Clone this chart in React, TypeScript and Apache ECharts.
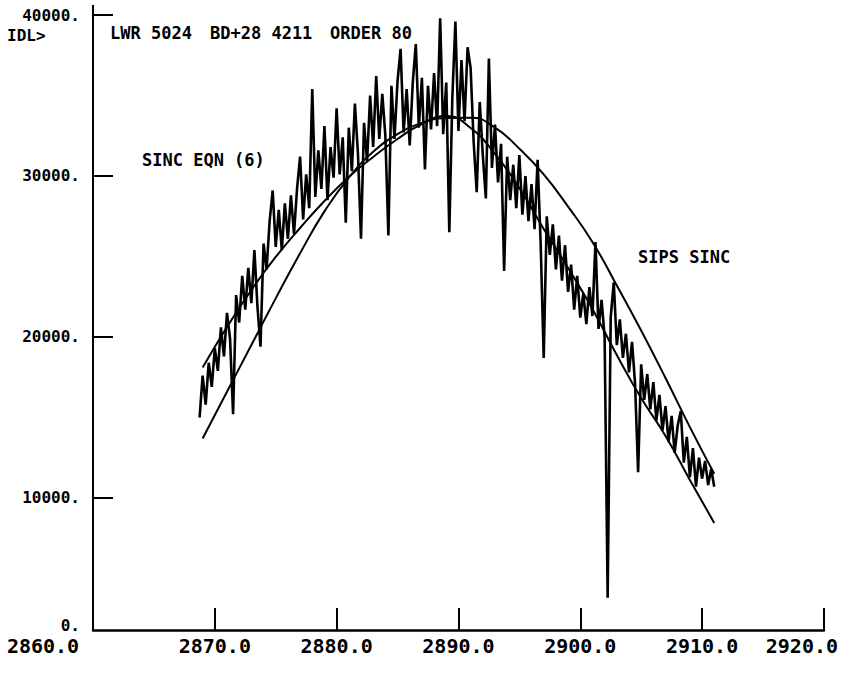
import React, { useEffect, useRef } from "react";
import * as echarts from "echarts";

// Observed spectrum: sampled on a regular wavelength grid
const WAVE_START = 2868.75;
const WAVE_STEP = 0.25;
const spectrum = [
  15000,
  17600, 15800, 18400, 16900,
  19300, 17900, 20600, 18800,
  21500, 19900, 15200, 22600,
  20900, 23800, 21700, 24300,
  22100, 25400, 21900, 19400,
  25800, 24200, 27200, 29100,
  25600, 27900, 25400, 28300,
  26100, 28800, 26400, 29200,
  31200, 27300, 30100, 28000,
  35400, 28700, 31600, 29200,
  33100, 28500, 31800, 29900,
  34200, 30100, 32400, 27100,
  33000, 30300, 34500, 31400,
  26100, 33300, 30900, 35000,
  31800, 36200, 32300, 35100,
  32500, 26300, 35600, 32300,
  35900, 37900, 32700, 35400,
  31900, 35800, 38200, 33000,
  36100, 30400, 35600, 32900,
  36400, 33100, 39800, 32600,
  35800, 26500, 34900, 39600,
  32800, 37200, 33400, 38000,
  36700, 32100, 29000, 34600,
  31300, 28600, 37300, 30500,
  33200, 29600, 32000, 24100,
  31200, 28500, 30700, 28000,
  31300, 27600, 30000, 27200,
  29500, 26700, 31000, 25800,
  18700, 27500, 25100, 27000,
  24200, 26300, 23500, 25700,
  22800, 24500, 21700, 23800,
  21200, 22700, 20800, 23100,
  21300, 25900, 20500, 22300,
  20000, 3800, 21200, 23400,
  19500, 21100, 18700, 20200,
  17800, 19700, 17100, 11600,
  18300, 16100, 17700, 15500,
  17200, 14800, 16400, 14200,
  15700, 13500, 15100, 12800,
  14500, 15400, 12200, 13800,
  11300, 13100, 10700, 12500,
  11200, 12300, 10800, 11800,
  10700,
];

// Fitted curves
const fitWaves = [
  2869, 2871, 2873, 2875, 2877, 2879, 2881, 2883, 2885, 2887, 2889,
  2891, 2893, 2895, 2897, 2899, 2901, 2903, 2905, 2907, 2909, 2911,
];
const sincEqn6 = [
  18100, 20620, 22920, 24970, 26770, 28450, 29940, 31180, 32300, 33230, 33730,
  32980, 31370, 29250, 26710, 24290, 21740, 18880, 16210, 13850, 11120, 8450,
];
const sipsSinc = [
  13700, 16600, 19500, 22400, 25200, 27800, 29900, 31500, 32600, 33300, 33600,
  33620, 33000, 31700, 30100, 28100, 25900, 23200, 20400, 17450, 14400, 11500,
];

const xTickValues = [2860, 2870, 2880, 2890, 2900, 2910, 2920];
const yLabelValues = [2100, 10000, 20000, 30000, 40000];
const yTickValues = [10000, 20000, 30000, 40000];

const FONT = '"DejaVu Sans Mono", monospace';

export default function App() {
  const ref = useRef<HTMLDivElement>(null);
  useEffect(() => {
    if (!ref.current) return;
    const chart = echarts.init(ref.current, undefined, { renderer: "svg" });
    const specData = spectrum.map((v, i) => [WAVE_START + i * WAVE_STEP, v]);
    const eqnData = fitWaves.map((w, i) => [w, sincEqn6[i]]);
    const sipsData = fitWaves.map((w, i) => [w, sipsSinc[i]]);
    const txt = (text: string, x: number, y: number, size = 17) => ({
      type: "text",
      x,
      y,
      silent: true,
      style: {
        text,
        fill: "#000",
        font: `bold ${size}px ${FONT}`,
        align: "left",
        verticalAlign: "middle",
      },
    });
    const xRich = (pad: number) => ({
      padding: [0, pad, 0, 0],
      fontFamily: FONT,
      fontWeight: "bold",
      fontSize: 20,
      color: "#000",
    });
    chart.setOption({
      animation: false,
      backgroundColor: "#fff",
      grid: { left: 93, right: 17, top: 15, bottom: 58, containLabel: false },
      xAxis: {
        type: "value",
        min: 2860,
        max: 2920,
        interval: 10,
        axisLine: { show: true, lineStyle: { color: "#000", width: 2.5 } },
        axisTick: { show: true, inside: true, length: 22, lineStyle: { color: "#000", width: 2 } },
        splitLine: { show: false },
        axisLabel: {
          margin: 6,
          color: "#000",
          fontFamily: FONT,
          fontWeight: "bold",
          fontSize: 20,
          formatter: (v: number) => {
            const key = v === xTickValues[0] ? "a" : v === xTickValues[xTickValues.length - 1] ? "b" : "n";
            return `{${key}|${v.toFixed(1)}}`;
          },
          rich: { a: xRich(100), b: xRich(44), n: xRich(0) },
        },
      },
      yAxis: {
        type: "value",
        min: 1800,
        max: 40000,
        axisLine: { show: true, lineStyle: { color: "#000", width: 2 } },
        axisTick: {
          show: true,
          inside: true,
          length: 20,
          lineStyle: { color: "#000", width: 2 },
          customValues: yTickValues,
        },
        splitLine: { show: false },
        axisLabel: {
          customValues: yLabelValues,
          margin: 13,
          color: "#000",
          fontFamily: FONT,
          fontWeight: "bold",
          fontSize: 16,
          formatter: (v: number) => (v < 5000 ? "0." : `${v}.`),
        },
      },
      graphic: [
        { type: "line", silent: true, shape: { x1: 93, y1: 5, x2: 93, y2: 15 }, style: { stroke: "#000", lineWidth: 2 } },
        txt("IDL>", 7, 35, 16),
        txt("LWR 5024", 110, 33),
        txt("BD+28 4211", 210, 33),
        txt("ORDER 80", 330, 33),
        txt("SINC EQN (6)", 142, 160),
        txt("SIPS SINC", 638, 257),
      ],
      series: [
        {
          name: "spectrum",
          type: "line",
          data: specData,
          symbol: "none",
          lineStyle: { color: "#000", width: 2.6, join: "miter" },
          silent: true,
        },
        {
          name: "SINC EQN (6)",
          type: "line",
          data: eqnData,
          symbol: "none",
          smooth: 0.5,
          lineStyle: { color: "#000", width: 2 },
          silent: true,
        },
        {
          name: "SIPS SINC",
          type: "line",
          data: sipsData,
          symbol: "none",
          smooth: 0.5,
          lineStyle: { color: "#000", width: 2 },
          silent: true,
        },
      ],
    });
    return () => chart.dispose();
  }, []);
  return (
    <div
      ref={ref}
      style={{ position: "fixed", left: 0, top: 0, width: 841, height: 688, background: "#fff" }}
    />
  );
}
